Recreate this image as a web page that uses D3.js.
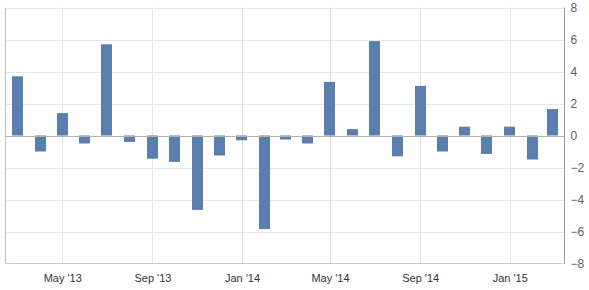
<!DOCTYPE html>
<html>
<head>
<meta charset="utf-8">
<script src="https://cdn.jsdelivr.net/npm/d3@7"></script>
<style>
body { margin: 0; background: #fff; }
svg { display: block; font-family: "Liberation Sans", Arial, sans-serif; }
</style>
</head>
<body>
<svg id="myGraph" width="589" height="290"></svg>
<script>
// monthly values, Mar 2013 .. Mar 2015
var months = ["2013-03","2013-04","2013-05","2013-06","2013-07","2013-08","2013-09","2013-10","2013-11","2013-12",
              "2014-01","2014-02","2014-03","2014-04","2014-05","2014-06","2014-07","2014-08","2014-09","2014-10",
              "2014-11","2014-12","2015-01","2015-02","2015-03"];
var values = [3.7, -1.0, 1.4, -0.5, 5.7, -0.4, -1.45, -1.65, -4.65, -1.25,
              -0.3, -5.85, -0.25, -0.5, 3.35, 0.4, 5.9, -1.3, 3.1, -1.0,
              0.55, -1.15, 0.55, -1.5, 1.65];
var yTicks = [8, 6, 4, 2, 0, -2, -4, -6, -8];
var xTicks = ["2013-05","2013-09","2014-01","2014-05","2014-09","2015-01"];

var parse = d3.timeParse("%Y-%m");
var fmt = d3.timeFormat("%b '%y");

// plot area (note: "top" is taken by window.top)
var pLeft = 5, pRight = 564, pTop = 7.5, pBottom = 263.5;
var barW = 11;

var x = d3.scaleTime()
  .domain([new Date(2013, 1, 12), new Date(2015, 2, 16)])
  .range([pLeft, pRight]);
var y = d3.scaleLinear().domain([-8, 8]).range([pBottom, pTop]);

var svg = d3.select("#myGraph");

// horizontal grid
svg.append("g").selectAll("line")
  .data(yTicks.filter(function(d){ return d != 0 && d != -8; }))
  .enter().append("line")
  .attr("x1", pLeft).attr("x2", pRight)
  .attr("y1", function(d){ return Math.round(y(d)) + 0.5; })
  .attr("y2", function(d){ return Math.round(y(d)) + 0.5; })
  .attr("stroke", "#e6e6e6");

// vertical grid
svg.append("g").selectAll("line")
  .data(xTicks)
  .enter().append("line")
  .attr("x1", function(d){ return Math.round(x(parse(d))) + 0.5; })
  .attr("x2", function(d){ return Math.round(x(parse(d))) + 0.5; })
  .attr("y1", pTop).attr("y2", pBottom)
  .attr("stroke", "#e6e6e6");

// left border + bottom line
svg.append("line")
  .attr("x1", pLeft + 0.5).attr("x2", pLeft + 0.5)
  .attr("y1", pTop).attr("y2", pBottom)
  .attr("stroke", "#c0c0c0");
svg.append("line")
  .attr("x1", pLeft).attr("x2", pRight)
  .attr("y1", Math.round(y(-8)) - 0.5).attr("y2", Math.round(y(-8)) - 0.5)
  .attr("stroke", "#c0cad8");

// bars
svg.append("g").selectAll("rect")
  .data(values)
  .enter().append("rect")
  .attr("x", function(d, i){ return Math.round(x(parse(months[i])) - barW / 2); })
  .attr("y", function(d){ return y(Math.max(0, d)); })
  .attr("width", barW)
  .attr("height", function(d){ return Math.abs(y(d) - y(0)); })
  .attr("fill", "#5a7fae");

// zero line
svg.append("line")
  .attr("x1", pLeft).attr("x2", pRight)
  .attr("y1", Math.round(y(0)) + 0.5).attr("y2", Math.round(y(0)) + 0.5)
  .attr("stroke", "#b0b0b0");

// right axis
var yAxis = d3.axisRight(y).tickValues(yTicks).tickSize(0).tickPadding(6);
var gy = svg.append("g")
  .attr("transform", "translate(" + (pRight + 0.5) + ",0)")
  .call(yAxis);
gy.select(".domain").attr("stroke", "#999").attr("d", "M0," + pTop + "V" + pBottom);
gy.selectAll("text").attr("fill", "#606060").attr("font-size", "12px").attr("font-family", "Liberation Sans, Arial, sans-serif");

// bottom axis
var xAxis = d3.axisBottom(x).tickValues(xTicks.map(parse)).tickFormat(fmt).tickSize(0).tickPadding(11);
var gx = svg.append("g")
  .attr("transform", "translate(0," + pBottom + ")")
  .call(xAxis);
gx.select(".domain").remove();
gx.selectAll("text").attr("fill", "#333").attr("font-size", "11px").attr("font-family", "Liberation Sans, Arial, sans-serif");
</script>
</body>
</html>
